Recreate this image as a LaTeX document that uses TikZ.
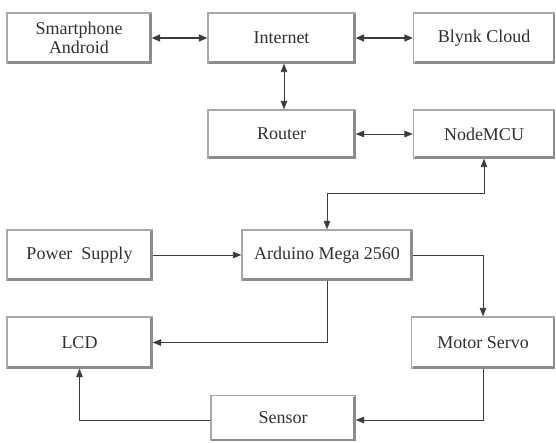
\documentclass[tikz,border=0pt]{standalone}
\usepackage{fontspec}
\setmainfont{Liberation Serif}
\usetikzlibrary{arrows.meta}
\definecolor{txt}{HTML}{303030}
\definecolor{edge}{HTML}{A8A8A8}
\definecolor{shadowc}{HTML}{8C8C8C}
\definecolor{wire}{HTML}{3C3C3C}
\tikzset{
  blk/.style={draw=edge, line width=1.3pt, fill=white, inner sep=0pt, align=center,
    text=txt, font=\fontsize{18}{19}\selectfont},
  shd/.style={draw=shadowc, line width=2.6pt},
  wirethin/.style={draw=wire, line width=0.8pt, -{Triangle[length=8.5pt,width=6.5pt]}},
  wirethick/.style={draw=wire, line width=1.6pt, {Triangle[length=8.5pt,width=7pt]}-{Triangle[length=8.5pt,width=7pt]}},
  wiretwo/.style={draw=wire, line width=0.8pt, {Triangle[length=8.5pt,width=6.5pt]}-{Triangle[length=8.5pt,width=6.5pt]}}
}
\begin{document}
\begin{tikzpicture}[x=1pt,y=-1pt]
\useasboundingbox (0,0) rectangle (556,443);
\node[blk, minimum width=144pt, minimum height=50pt] (sa) at (79,38) {Smartphone\\Android};
\node[blk, minimum width=147pt, minimum height=50pt] (inet) at (281.5,38) {Internet};
\node[blk, minimum width=141pt, minimum height=50pt] (blynk) at (484,38) {Blynk Cloud};
\node[blk, minimum width=147pt, minimum height=48pt] (router) at (281.5,134) {Router};
\node[blk, minimum width=141pt, minimum height=48pt] (nmcu) at (484,134) {NodeMCU};
\node[blk, minimum width=145pt, minimum height=50pt] (ps) at (79.5,255) {Power\ \ Supply};
\node[blk, minimum width=170pt, minimum height=50pt] (ard) at (327,255) {Arduino Mega 2560};
\node[blk, minimum width=145pt, minimum height=51pt] (lcd) at (79.5,342.5) {LCD};
\node[blk, minimum width=143pt, minimum height=51pt] (motor) at (483,342.5) {Motor Servo};
\node[blk, minimum width=144pt, minimum height=45pt] (sensor) at (283,418) {Sensor};
\foreach \n in {sa,inet,blynk,router,nmcu,ps,ard,lcd,motor,sensor}{
  \draw[shd] ([xshift=-1.3pt,yshift=-2pt]\n.north east) -- ([xshift=-1.3pt,yshift=1.3pt]\n.south east) -- ([xshift=2pt,yshift=1.3pt]\n.south west);
}
% connectors
\draw[wirethick] (sa.east) -- (inet.west);
\draw[wirethick] (inet.east) -- (blynk.west);
\draw[wiretwo] ([xshift=2.5pt]inet.south) -- ([xshift=2.5pt]router.north);
\draw[wiretwo] (router.east) -- (nmcu.west);
\coordinate (bend) at (nmcu.south |- 0,193);
\draw[wiretwo] (nmcu.south) -- (bend) -| (ard.north);
\draw[wirethin] (ps.east) -- (ard.west);
\draw[wirethin] (ard.south) |- (lcd.east);
\draw[wirethin] (ard.east) -| (motor.north);
\coordinate (mbend) at (motor.south |- 0,420);
\draw[wirethin] (motor.south) -- (mbend) -- (mbend -| sensor.east);
\coordinate (sw) at (sensor.west |- 0,420);
\draw[wirethin] (sw) -| (lcd.south);
\end{tikzpicture}
\end{document}
